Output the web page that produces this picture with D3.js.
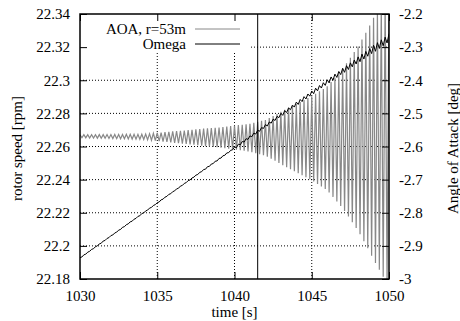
<!DOCTYPE html>
<html>
<head>
<meta charset="utf-8">
<script src="https://cdn.jsdelivr.net/npm/d3@7"></script>
<style>
    body { margin: 0; background: #fff; }
    svg { display: block; font-family: "Liberation Serif", "Times New Roman", Times, serif; }
</style>
</head>
<body>
<div id="chart"></div>
<script>
// time axis
var tStart = 1030, tEnd = 1050, halfStep = 0.125;
var xTicks = [1030, 1035, 1040, 1045, 1050];
var yLeftTicks = [22.18, 22.2, 22.22, 22.24, 22.26, 22.28, 22.3, 22.32, 22.34];
var yRightTicks = [-3, -2.9, -2.8, -2.7, -2.6, -2.5, -2.4, -2.3, -2.2];
var markerTime = 1041.5;
var legendNames = ['AOA, r=53m', 'Omega'];

// angle of attack [deg]: maxima every 0.25 s, minima in between
var aoaHigh = [-2.5645, -2.5645, -2.5644, -2.5643, -2.5642, -2.5641, -2.5641, -2.5640, -2.5638, -2.5637,
    -2.5636, -2.5635, -2.5634, -2.5633, -2.5632, -2.5631, -2.5630, -2.5622, -2.5613, -2.5601,
    -2.5590, -2.5579, -2.5567, -2.5555, -2.5544, -2.5535, -2.5526, -2.5517, -2.5508, -2.5499,
    -2.5485, -2.5471, -2.5462, -2.5453, -2.5444, -2.5435, -2.5426, -2.5412, -2.5398, -2.5384,
    -2.5370, -2.5356, -2.5342, -2.5328, -2.5314, -2.5285, -2.5256, -2.5227, -2.5198, -2.5139,
    -2.5080, -2.5021, -2.4952, -2.4893, -2.4834, -2.4775, -2.4716, -2.4657, -2.4598, -2.4539,
    -2.4480, -2.4411, -2.4332, -2.4263, -2.4184, -2.4055, -2.3926, -2.3787, -2.3648, -2.3489,
    -2.3320, -2.3151, -2.2982, -2.2773, -2.2564, -2.2345, -2.2116, -2.1917, -2.1718, -2.1489,
    -2.1270];
var aoaLow = [-2.5736, -2.5739, -2.5742, -2.5745, -2.5748, -2.5750, -2.5753, -2.5756, -2.5760, -2.5763,
    -2.5766, -2.5769, -2.5772, -2.5775, -2.5778, -2.5781, -2.5787, -2.5798, -2.5810, -2.5824,
    -2.5837, -2.5850, -2.5864, -2.5878, -2.5890, -2.5901, -2.5912, -2.5923, -2.5934, -2.5947,
    -2.5963, -2.5977, -2.5988, -2.5999, -2.6010, -2.6021, -2.6034, -2.6050, -2.6066, -2.6082,
    -2.6098, -2.6114, -2.6130, -2.6146, -2.6170, -2.6201, -2.6232, -2.6263, -2.6309, -2.6370,
    -2.6431, -2.6497, -2.6563, -2.6624, -2.6685, -2.6746, -2.6807, -2.6868, -2.6929, -2.6990,
    -2.7056, -2.7132, -2.7208, -2.7284, -2.7390, -2.7521, -2.7657, -2.7798, -2.7949, -2.8115,
    -2.8286, -2.8457, -2.8648, -2.8859, -2.9075, -2.9301, -2.9517, -2.9718, -2.9934, -3.0160];

// rotor speed [rpm]: maxima every 0.25 s, minima in between
var omegaHigh = [22.1929, 22.1946, 22.1962, 22.1979, 22.1995, 22.2012, 22.2029, 22.2045, 22.2062, 22.2078,
    22.2095, 22.2112, 22.2128, 22.2145, 22.2161, 22.2178, 22.2195, 22.2211, 22.2228, 22.2244,
    22.2261, 22.2278, 22.2294, 22.2311, 22.2327, 22.2344, 22.2361, 22.2377, 22.2394, 22.2410,
    22.2427, 22.2444, 22.2461, 22.2478, 22.2494, 22.2511, 22.2528, 22.2544, 22.2561, 22.2577,
    22.2597, 22.2614, 22.2630, 22.2647, 22.2664, 22.2681, 22.2698, 22.2714, 22.2732, 22.2748,
    22.2765, 22.2782, 22.2800, 22.2817, 22.2833, 22.2850, 22.2868, 22.2884, 22.2901, 22.2917,
    22.2935, 22.2952, 22.2968, 22.2985, 22.3003, 22.3020, 22.3037, 22.3053, 22.3072, 22.3088,
    22.3105, 22.3122, 22.3141, 22.3158, 22.3174, 22.3191, 22.3211, 22.3227, 22.3244, 22.3260,
    22.3281];
var omegaLow = [22.1933, 22.1950, 22.1967, 22.1983, 22.2000, 22.2016, 22.2033, 22.2050, 22.2066, 22.2083,
    22.2099, 22.2116, 22.2133, 22.2149, 22.2166, 22.2182, 22.2199, 22.2216, 22.2232, 22.2249,
    22.2265, 22.2282, 22.2299, 22.2315, 22.2332, 22.2348, 22.2365, 22.2382, 22.2398, 22.2415,
    22.2431, 22.2448, 22.2463, 22.2480, 22.2497, 22.2513, 22.2530, 22.2547, 22.2563, 22.2580,
    22.2593, 22.2610, 22.2627, 22.2643, 22.2659, 22.2675, 22.2692, 22.2709, 22.2724, 22.2741,
    22.2757, 22.2774, 22.2788, 22.2805, 22.2822, 22.2838, 22.2854, 22.2871, 22.2887, 22.2904,
    22.2919, 22.2936, 22.2953, 22.2969, 22.2984, 22.3000, 22.3017, 22.3034, 22.3048, 22.3065,
    22.3081, 22.3098, 22.3112, 22.3128, 22.3145, 22.3161, 22.3175, 22.3192, 22.3208, 22.3225];

// interleave maxima and minima into one series
function series(high, low) {
    var pts = [];
    for (var i = 0; i < high.length; i++) {
        pts.push([tStart + i * 2 * halfStep, high[i]]);
        if (i < low.length) {
            pts.push([tStart + (i * 2 + 1) * halfStep, low[i]]);
        }
    }
    return pts;
}

var W = 460, H = 321;
var m = { left: 80, right: 71, top: 14, bottom: 42 };
var iw = W - m.left - m.right, ih = H - m.top - m.bottom;
var fontSize = '15px';
var tickLen = 7;

var svg = d3.select('#chart').append('svg').attr('width', W).attr('height', H);
var g = svg.append('g').attr('transform', 'translate(' + m.left + ',' + m.top + ')');

var x = d3.scaleLinear().domain([tStart, tEnd]).range([0, iw]);
var yL = d3.scaleLinear().domain([22.18, 22.34]).range([ih, 0]);
var yR = d3.scaleLinear().domain([-3, -2.2]).range([ih, 0]);

// grid
var grid = g.append('g').attr('class', 'grid')
    .attr('stroke', '#000').attr('stroke-width', 1).attr('stroke-dasharray', '1,2');
grid.selectAll('line.gx').data(xTicks.slice(1, -1)).enter().append('line')
    .attr('x1', function (d) { return x(d); }).attr('x2', function (d) { return x(d); })
    .attr('y1', 0).attr('y2', ih);
grid.selectAll('line.gy').data(yLeftTicks.slice(1, -1)).enter().append('line')
    .attr('y1', function (d) { return yL(d); }).attr('y2', function (d) { return yL(d); })
    .attr('x1', 0).attr('x2', iw);

// data
g.append('clipPath').attr('id', 'clip').append('rect').attr('width', iw).attr('height', ih);
var plot = g.append('g').attr('clip-path', 'url(#clip)');

var lineR = d3.line().x(function (d) { return x(d[0]); }).y(function (d) { return yR(d[1]); });
var lineL = d3.line().x(function (d) { return x(d[0]); }).y(function (d) { return yL(d[1]); });

plot.append('path').datum(series(aoaHigh, aoaLow))
    .attr('d', lineR).attr('fill', 'none').attr('stroke', '#888').attr('stroke-width', 1.2);
plot.append('path').datum(series(omegaHigh, omegaLow))
    .attr('d', lineL).attr('fill', 'none').attr('stroke', '#000').attr('stroke-width', 1);

// marker line
g.append('line')
    .attr('x1', x(markerTime)).attr('x2', x(markerTime))
    .attr('y1', 0).attr('y2', ih)
    .attr('stroke', '#000').attr('stroke-width', 1);

// legend (opaque key box)
var key = g.append('g');
key.append('rect').attr('x', 0).attr('y', 0).attr('width', 170).attr('height', 38).attr('fill', '#fff');
var keyColors = ['#888', '#000'];
legendNames.forEach(function (name, i) {
    var ky = 15 + i * 15;
    key.append('text').attr('x', 106).attr('y', ky).attr('dy', '0.33em')
        .attr('text-anchor', 'end').attr('font-size', fontSize).text(name);
    key.append('line').attr('x1', 115).attr('x2', 160).attr('y1', ky).attr('y2', ky)
        .attr('stroke', keyColors[i]).attr('stroke-width', 1);
});

// axes (gnuplot style: inward ticks, labels outside)
var axL = d3.axisLeft(yL).tickValues(yLeftTicks).tickSizeInner(-tickLen).tickSizeOuter(0).tickPadding(10)
    .tickFormat(function (d) { return String(+d.toFixed(2)); });
var axR = d3.axisRight(yR).tickValues(yRightTicks).tickSizeInner(-tickLen).tickSizeOuter(0).tickPadding(10)
    .tickFormat(function (d) { return String(+d.toFixed(1)); });
var axB = d3.axisBottom(x).tickValues(xTicks).tickSizeInner(-tickLen).tickSizeOuter(0).tickPadding(11)
    .tickFormat(d3.format('d'));
var axT = d3.axisTop(x).tickValues(xTicks).tickSizeInner(-tickLen).tickSizeOuter(0).tickFormat('');

function styleAxis(sel) {
    sel.attr('font-family', null);
    sel.select('.domain').remove();
    sel.selectAll('.tick line').attr('stroke', '#000').attr('stroke-width', 1);
    sel.selectAll('text').attr('font-size', fontSize).attr('fill', '#000');
}
g.append('g').call(axL).call(styleAxis);
g.append('g').attr('transform', 'translate(' + iw + ',0)').call(axR).call(styleAxis);
g.append('g').attr('transform', 'translate(0,' + ih + ')').call(axB).call(styleAxis);
g.append('g').call(axT).call(styleAxis);

// border
g.append('rect').attr('width', iw).attr('height', ih)
    .attr('fill', 'none').attr('stroke', '#000').attr('stroke-width', 1.5);

// axis titles
svg.append('text').attr('x', m.left + iw / 2).attr('y', 317).attr('text-anchor', 'middle')
    .attr('font-size', fontSize).text('time [s]');
svg.append('text').attr('transform', 'translate(17,' + (m.top + ih / 2 + 2) + ') rotate(-90)')
    .attr('text-anchor', 'middle').attr('dy', '0.35em').attr('font-size', fontSize).text('rotor speed [rpm]');
svg.append('text').attr('transform', 'translate(453,' + (m.top + ih / 2 + 2) + ') rotate(-90)')
    .attr('text-anchor', 'middle').attr('dy', '0.35em').attr('font-size', fontSize).text('Angle of Attack [deg]');
</script>
</body>
</html>
